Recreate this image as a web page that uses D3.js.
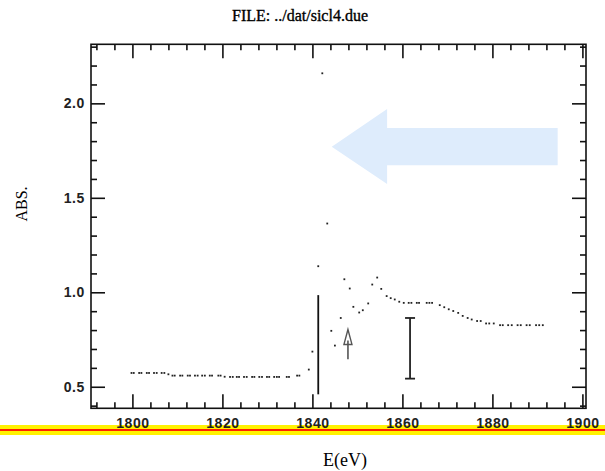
<!DOCTYPE html>
<html>
<head>
    <meta charset="utf-8" />
    <title>sicl4.due</title>
    <style>
        body { margin: 0; background: #fff; }
        .tick text { font-family: "Liberation Sans", sans-serif; font-size: 14px; font-weight: bold; letter-spacing: 0.6px; fill: #222; }
        .tick line { stroke: #111; stroke-width: 1.6px; }
    </style>
    <script src="https://cdn.jsdelivr.net/npm/d3@7"></script>
</head>
<body>
<script>
    // measured spectrum (energy in eV, absorbance)
    var energy = [
        1799.8, 1800.3, 1801.5, 1802.0, 1803.2, 1803.7, 1804.8, 1805.4, 1806.5, 1807.1,
        1808.0, 1808.9, 1809.4, 1810.6, 1811.1, 1812.3, 1812.8, 1813.9, 1814.5, 1815.5,
        1816.1, 1817.2, 1817.7, 1819.1, 1819.6, 1820.5, 1821.7, 1822.3, 1823.2, 1823.7,
        1824.8, 1825.4, 1826.6, 1827.1, 1828.2, 1828.8, 1829.9, 1830.4, 1831.5, 1832.1,
        1832.6, 1834.3, 1834.8, 1836.6, 1837.1, 1839.2, 1840.0, 1841.3, 1842.2, 1843.3,
        1844.2, 1845.0, 1846.3, 1847.1, 1848.3, 1849.1, 1850.4, 1851.2, 1852.4, 1853.3,
        1854.4, 1855.3, 1856.5, 1857.4, 1858.3, 1859.3, 1860.3, 1861.4, 1862.0, 1863.2,
        1863.7, 1865.4, 1866.0, 1866.6, 1868.3, 1869.3, 1870.3, 1871.3, 1872.4, 1873.4,
        1874.5, 1875.4, 1876.6, 1877.4, 1878.6, 1879.3, 1880.3, 1881.7, 1882.3, 1883.5,
        1884.3, 1885.6, 1886.3, 1887.6, 1888.3, 1889.7, 1890.4, 1891.2
    ];
    var absorbance = [
        0.573, 0.573, 0.573, 0.573, 0.573, 0.573, 0.573, 0.573, 0.573, 0.573,
        0.566, 0.559, 0.559, 0.559, 0.559, 0.559, 0.559, 0.559, 0.559, 0.559,
        0.559, 0.559, 0.559, 0.559, 0.559, 0.553, 0.552, 0.552, 0.552, 0.552,
        0.552, 0.552, 0.552, 0.552, 0.552, 0.552, 0.552, 0.552, 0.552, 0.552,
        0.552, 0.552, 0.552, 0.559, 0.559, 0.591, 0.686, 1.138, 2.159, 1.364,
        0.796, 0.718, 0.864, 1.069, 1.020, 0.923, 0.893, 0.905, 0.941, 1.041,
        1.078, 1.018, 0.980, 0.969, 0.962, 0.950, 0.944, 0.944, 0.944, 0.944,
        0.944, 0.944, 0.944, 0.944, 0.932, 0.921, 0.910, 0.901, 0.891, 0.875,
        0.864, 0.856, 0.848, 0.848, 0.835, 0.835, 0.835, 0.826, 0.826, 0.826,
        0.826, 0.826, 0.826, 0.826, 0.826, 0.826, 0.826, 0.826
    ];

    // tick labels
    var xTicks = [1800, 1820, 1840, 1860, 1880, 1900];
    var yTicks = [0.5, 1.0, 1.5, 2.0];

    // annotations (data coordinates)
    var edgeLine = { e: 1841.3, lo: 0.46, hi: 0.985 };
    var errBar = { e: 1861.7, lo: 0.543, hi: 0.864 };
    var smallArrow = { e: 1847.9, tip: 0.803, base: 0.724, tail: 0.645 };
    var bigArrow = [[1844.3, 1.77], [1856.6, 1.97], [1856.6, 1.869], [1894.5, 1.869],
                    [1894.5, 1.673], [1856.6, 1.673], [1856.6, 1.573]];

    var W = 605, H = 471;
    var plotL = 91, plotR = 586, plotT = 44.3, plotB = 408.3;

    var x = d3.scaleLinear().domain([1790.8, 1900.8]).range([plotL, plotR]);
    var y = d3.scaleLinear().domain([0.386, 2.3125]).range([plotB, plotT]);

    var svg = d3.select('body').append('svg')
        .attr('width', W)
        .attr('height', H);

    // yellow / red band (behind the tick labels)
    svg.append('rect')
        .attr('x', 0).attr('y', 425).attr('width', W).attr('height', 10)
        .attr('fill', '#fff200');
    svg.append('rect')
        .attr('x', 0).attr('y', 429).attr('width', W).attr('height', 2)
        .attr('fill', '#ff2200');

    // title
    svg.append('text')
        .attr('x', 300).attr('y', 21)
        .attr('text-anchor', 'middle')
        .style('font-family', '"Liberation Serif", serif')
        .style('font-size', '16px')
        .style('stroke', '#000').style('stroke-width', 0.35)
        .text('FILE: ../dat/sicl4.due');

    // light blue arrow
    svg.append('polygon')
        .attr('points', bigArrow.map(function(p) { return x(p[0]) + ',' + y(p[1]); }).join(' '))
        .attr('fill', '#deecfc');

    // minor ticks
    var xMinor = d3.range(1792, 1901, 4).filter(function(v) { return v % 20 !== 0; });
    var yMinor = d3.range(0.4, 2.31, 0.1).filter(function(v) { return Math.abs(v * 2 - Math.round(v * 2)) > 0.01; });

    function addAxis(axis, tr, vals, size, fmt, pad) {
        var g = svg.append('g')
            .attr('transform', tr)
            .call(axis.tickValues(vals).tickSize(size).tickPadding(pad || 3)
                .tickFormat(fmt || ''));
        g.select('.domain').remove();
        return g;
    }

    addAxis(d3.axisBottom(x), 'translate(0,' + plotB + ')', xMinor, -6);
    addAxis(d3.axisTop(x), 'translate(0,' + plotT + ')', xMinor, -6);
    addAxis(d3.axisLeft(y), 'translate(' + plotL + ',0)', yMinor, -6);
    addAxis(d3.axisRight(y), 'translate(' + plotR + ',0)', yMinor, -6);

    addAxis(d3.axisBottom(x), 'translate(0,' + plotB + ')', xTicks, -14, d3.format('d'), 10);
    addAxis(d3.axisTop(x), 'translate(0,' + plotT + ')', xTicks, -14);
    addAxis(d3.axisLeft(y), 'translate(' + plotL + ',0)', yTicks, -14, d3.format('.1f'), 6);
    addAxis(d3.axisRight(y), 'translate(' + plotR + ',0)', yTicks, -14);

    // frame
    svg.append('rect')
        .attr('x', plotL).attr('y', plotT)
        .attr('width', plotR - plotL).attr('height', plotB - plotT)
        .attr('fill', 'none').attr('stroke', '#111').attr('stroke-width', 1.6);

    // data points
    svg.append('g').selectAll('rect')
        .data(energy.map(function(e, i) { return [e, absorbance[i]]; }))
        .enter().append('rect')
        .attr('x', function(d) { return x(d[0]) - 0.9; })
        .attr('y', function(d) { return y(d[1]) - 0.9; })
        .attr('width', 1.8).attr('height', 1.8)
        .attr('fill', '#222');

    // edge marker line
    svg.append('line')
        .attr('x1', x(edgeLine.e)).attr('x2', x(edgeLine.e))
        .attr('y1', y(edgeLine.hi)).attr('y2', y(edgeLine.lo))
        .attr('stroke', '#111').attr('stroke-width', 1.8);

    // error bar
    var eb = svg.append('g').attr('stroke', '#222').attr('stroke-width', 1.8);
    eb.append('line')
        .attr('x1', x(errBar.e)).attr('x2', x(errBar.e))
        .attr('y1', y(errBar.hi)).attr('y2', y(errBar.lo));
    [errBar.hi, errBar.lo].forEach(function(v) {
        eb.append('line')
            .attr('x1', x(errBar.e) - 5).attr('x2', x(errBar.e) + 5)
            .attr('y1', y(v)).attr('y2', y(v));
    });

    // small hollow arrow
    var ax = x(smallArrow.e);
    svg.append('polygon')
        .attr('points', [[ax, y(smallArrow.tip)], [ax - 4, y(smallArrow.base)], [ax + 4, y(smallArrow.base)]]
            .map(function(p) { return p.join(','); }).join(' '))
        .attr('fill', 'none').attr('stroke', '#555').attr('stroke-width', 1.4);
    svg.append('line')
        .attr('x1', ax).attr('x2', ax)
        .attr('y1', y(smallArrow.base) - 4).attr('y2', y(smallArrow.tail))
        .attr('stroke', '#555').attr('stroke-width', 1.6);

    // axis titles
    svg.append('text')
        .attr('x', 345).attr('y', 466)
        .attr('text-anchor', 'middle')
        .style('font-family', '"Liberation Serif", serif')
        .style('font-size', '18px')
        .text('E(eV)');

    svg.append('text')
        .attr('transform', 'translate(27,204) rotate(-90)')
        .attr('text-anchor', 'middle')
        .style('font-family', '"Liberation Serif", serif')
        .style('font-size', '16px')
        .text('ABS.');
</script>
</body>
</html>
